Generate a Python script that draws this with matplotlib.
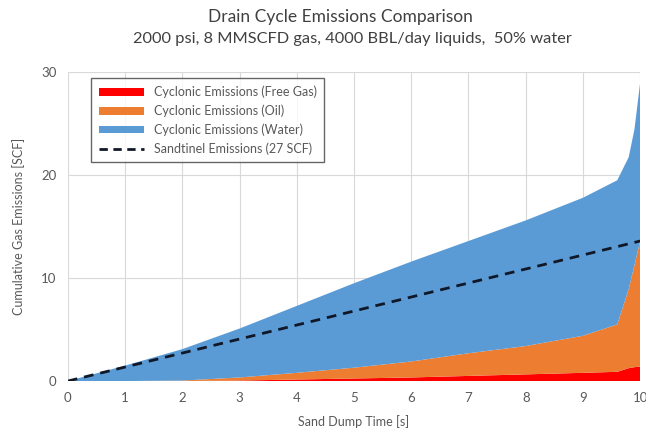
import matplotlib
matplotlib.use("Agg")
import matplotlib.pyplot as plt
from matplotlib.patches import Patch
from matplotlib.lines import Line2D
import numpy as np

plt.rcParams['font.family'] = ['Lato', 'DejaVu Sans']

time_s = [0, 1, 2, 3, 4, 5, 6, 7, 8, 9, 9.6, 9.8, 9.9, 10]
free_gas = [0, 0, 0, 0.05, 0.15, 0.25, 0.35, 0.5, 0.65, 0.8, 0.9, 1.25, 1.35, 1.4]
oil = [0, 0, 0.05, 0.3, 0.65, 1.05, 1.55, 2.2, 2.75, 3.6, 4.6, 7.7, 9.9, 12.2]
water = [0, 1.5, 3.05, 4.75, 6.5, 8.2, 9.7, 10.9, 12.2, 13.4, 14.0, 12.8, 13.2, 15.4]
sandtinel_t = [0, 10]
sandtinel = [0, 13.6]

labels = ["Cyclonic Emissions (Free Gas)", "Cyclonic Emissions (Oil)",
          "Cyclonic Emissions (Water)", "Sandtinel Emissions (27 SCF)"]
colors = ["#FF0000", "#ED7D31", "#5B9BD5"]
grey = "#595959"

fig = plt.figure(figsize=(6.46, 4.37), dpi=100)
ax = fig.add_axes([0.105, 0.128, 0.886, 0.707])

ax.stackplot(time_s, free_gas, oil, water, colors=colors, linewidth=0, zorder=2)
ax.plot(sandtinel_t, sandtinel, linestyle=(0, (3.5, 2.5)), color="#101828", lw=2, zorder=3)

ax.set_xlim(0, 10)
ax.set_ylim(0, 30)
ax.set_xticks(range(0, 11))
ax.set_yticks([0, 10, 20, 30])
ax.grid(True, color="#D9D9D9", lw=0.8, zorder=0)
ax.set_axisbelow(True)
for s in ax.spines.values():
    s.set_visible(False)
ax.tick_params(length=0, colors=grey, labelsize=9.5, pad=8)
ax.set_xlabel("Sand Dump Time [s]", color=grey, fontsize=9, labelpad=8)
ax.set_ylabel("Cumulative Gas Emissions [SCF]", color=grey, fontsize=9, labelpad=12)

fig.text(0.527, 0.96, "Drain Cycle Emissions Comparison", ha="center", va="center",
         fontsize=12.5, color="#404040")
fig.text(0.546, 0.91, "2000 psi, 8 MMSCFD gas, 4000 BBL/day liquids,  50% water",
         ha="center", va="center", fontsize=11.8, color="#404040")

handles = [Patch(facecolor=c, edgecolor="none") for c in colors]
handles.append(Line2D([0], [0], color="#101828", lw=2, linestyle=(0, (3, 2))))
leg = ax.legend(handles, labels, loc="upper left", bbox_to_anchor=(0.03, 1.0),
                fontsize=9, frameon=True, fancybox=False, handlelength=3.6,
                handleheight=0.55, labelcolor=grey, borderpad=0.6, labelspacing=0.5)
leg.get_frame().set_edgecolor("#404040")
leg.get_frame().set_linewidth(1.0)

fig.savefig("out.png", dpi=100)
